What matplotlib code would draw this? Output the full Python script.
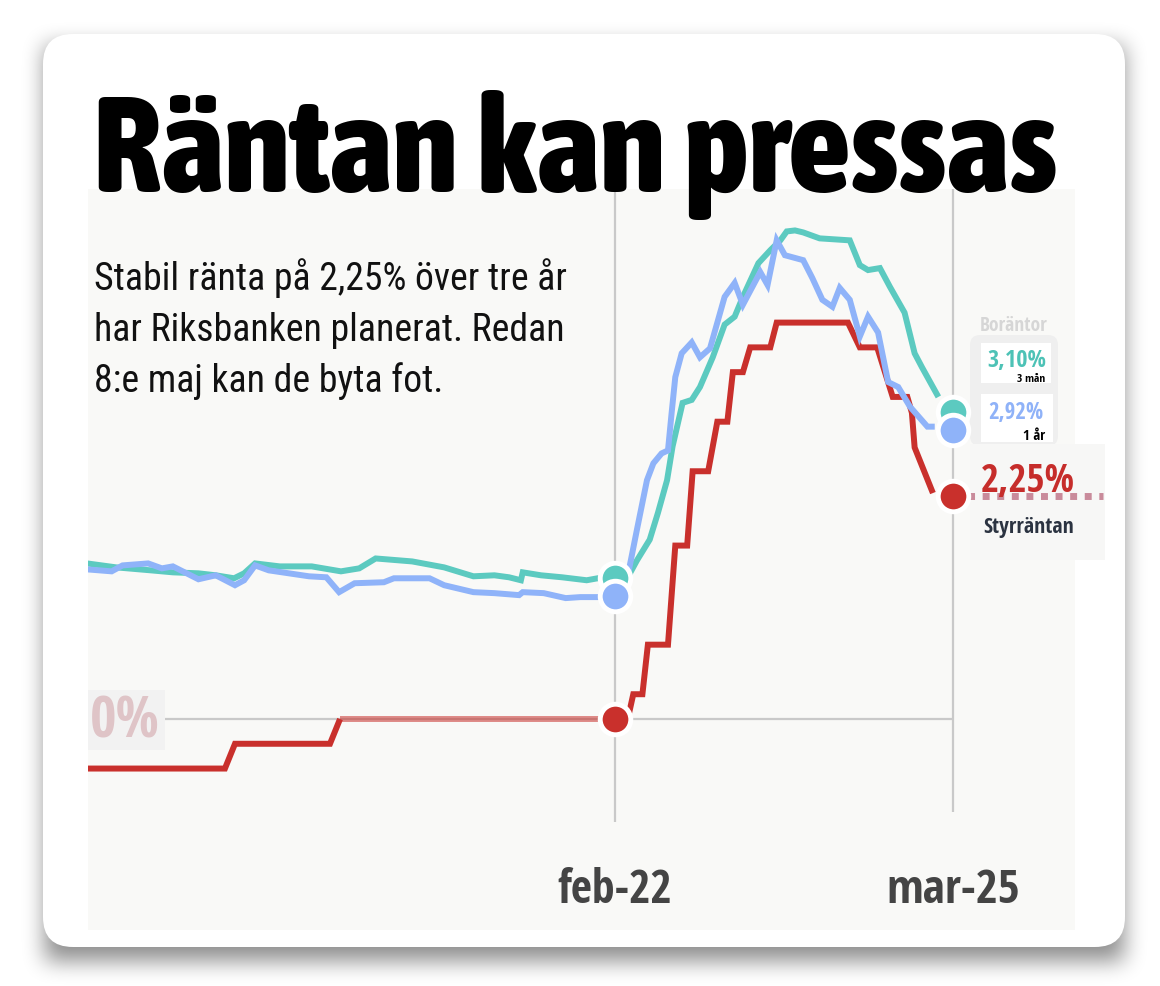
import numpy as np
import matplotlib
matplotlib.use("Agg")
import matplotlib.pyplot as plt
from matplotlib.patches import FancyBboxPatch, Rectangle
from matplotlib.transforms import IdentityTransform
from matplotlib import font_manager as fm

# ---------------- data (months relative to feb-22, percent) ----------------
tick_pos = [0, 37]
tick_labels = ["feb-22", "mar-25"]

t_3m = [-57.8, -54.6, -50.8, -48.4, -45.6, -43.7, -41.7, -40.6, -39.4, -36.7, -33.2,
        -30.0, -28.0, -26.2, -22.2, -18.7, -15.5, -13.2, -11.6, -10.3, -10.1, -8.1,
        -5.8, -3.1, -1.9, 0.0, 1.4, 2.4, 3.8, 4.7, 5.7, 6.3, 7.4, 8.4, 9.3, 10.7,
        12.0, 13.1, 14.0, 15.7, 17.0, 18.1, 18.8, 19.7, 20.6, 22.4, 25.7, 26.8,
        27.7, 29.0, 30.1, 31.7, 32.8, 33.6, 35.4, 37.0]
v_3m = [1.57, 1.53, 1.50, 1.48, 1.47, 1.45, 1.42, 1.47, 1.57, 1.54, 1.54,
        1.49, 1.52, 1.62, 1.59, 1.53, 1.44, 1.45, 1.43, 1.40, 1.48, 1.45,
        1.43, 1.40, 1.42, 1.42, 1.43, 1.60, 1.81, 2.08, 2.41, 2.75, 3.19, 3.22, 3.35, 3.65,
        3.98, 4.06, 4.26, 4.60, 4.73, 4.83, 4.92, 4.93, 4.91, 4.85, 4.83, 4.58,
        4.53, 4.55, 4.36, 4.10, 3.69, 3.55, 3.25, 3.10]

t_1y = [-57.8, -55.1, -53.9, -51.1, -49.6, -48.4, -45.6, -43.7, -41.6, -40.6, -39.4,
        -37.9, -33.5, -31.6, -30.2, -28.5, -25.3, -24.2, -20.3, -18.7, -15.5, -13.2,
        -10.5, -10.1, -7.8, -5.4, -3.8, -1.9, 0.0, 1.3, 2.4, 3.5, 4.2, 5.1, 5.8, 6.2,
        6.6, 7.3, 8.4, 9.3, 10.4, 12.0, 13.1, 14.0, 15.9, 16.7, 17.7, 18.6, 20.6,
        21.6, 22.7, 23.8, 24.6, 25.7, 26.8, 27.7, 28.8, 29.9, 31.0, 32.3, 34.2, 35.0, 37.0]
v_1y = [1.51, 1.49, 1.55, 1.57, 1.52, 1.54, 1.41, 1.45, 1.35, 1.40, 1.55,
        1.50, 1.44, 1.43, 1.28, 1.37, 1.38, 1.42, 1.42, 1.35, 1.28, 1.27,
        1.25, 1.28, 1.27, 1.22, 1.23, 1.23, 1.24, 1.40, 1.91, 2.41, 2.58, 2.68, 2.71, 3.09,
        3.45, 3.69, 3.80, 3.65, 3.74, 4.26, 4.40, 4.18, 4.51, 4.38, 4.83, 4.68, 4.63,
        4.45, 4.23, 4.16, 4.35, 4.23, 3.86, 4.06, 3.90, 3.40, 3.35, 3.15, 2.95, 2.95, 2.92]

t_policy = [-57.8, -42.7, -41.6, -31.2, -30.1, 0.0, 1.4, 2.0, 3.0, 3.6, 5.8, 6.6, 7.9, 8.5,
            10.2, 11.2, 12.3, 12.9, 14.0, 14.8, 17.0, 17.7, 25.5, 26.8, 28.7, 30.4,
            32.0, 32.5, 32.8, 34.8, 37.0]
v_policy = [-0.50, -0.50, -0.25, -0.25, 0.00, 0.00, 0.00, 0.25, 0.25, 0.75, 0.75, 1.75, 1.75, 2.50,
            2.50, 3.00, 3.00, 3.50, 3.50, 3.75, 3.75, 4.00, 4.00, 3.75, 3.75, 3.25,
            3.25, 3.09, 2.74, 2.28, 2.25]

title = "Räntan kan pressas"
subtitle = ["Stabil ränta på 2,25% över tre år",
            "har Riksbanken planerat. Redan",
            "8:e maj kan de byta fot."]
panel_title = "Boräntor"
label_3m, label_1y, label_policy = "3 mån", "1 år", "Styrräntan"
zero_label = "0%"

# ---------------- style ----------------
TEAL = "#5ccac0"
BLUE = "#8fb3f9"
RED = "#c9302c"
W, H = 1160, 986
DPI = 100

RANK = {"extra-condensed": 0, "condensed": 1, "ultra-condensed": 2, "semi-condensed": 3}
PREF = ["Noto Sans", "Open Sans", "Roboto", "Liberation Sans Narrow", "DejaVu Sans"]


def pick_font(target, min_w):
    cands = []
    for f in fm.fontManager.ttflist:
        if f.style != "normal":
            continue
        low = (f.fname + " " + f.name).lower()
        cond = ("condensed" in str(f.stretch)) or ("condensed" in low) or ("narrow" in low) \
            or ("cond" in f.fname.lower().split("/")[-1])
        if not cond or "mono" in low or "serif" in low and "sans" not in low:
            continue
        wt = f.weight if not isinstance(f.weight, str) else fm.weight_dict.get(f.weight, 400)
        wt = int(wt)
        if wt < min_w:
            continue
        fam_rank = next((i for i, p in enumerate(PREF) if f.name.startswith(p)), len(PREF))
        cands.append((abs(wt - target), RANK.get(str(f.stretch), 1), fam_rank, f.fname))
    if cands:
        cands.sort()
        return fm.FontProperties(fname=cands[0][3])
    return fm.FontProperties(family="DejaVu Sans", weight=target)


F_HEAVY = pick_font(800, 700)
F_BOLD = pick_font(700, 600)
F_REG = pick_font(400, 400)

fig = plt.figure(figsize=(W / DPI, H / DPI), dpi=DPI)
fig.patch.set_facecolor("white")

# shadow (blurred card mask)
yy, xx = np.mgrid[0:H, 0:W]
mask = ((xx >= 45) & (xx <= 1123) & (yy >= 46) & (yy <= 960)).astype(float)


def box_blur(a, r, axis):
    pad = [(r + 1, r) if i == axis else (0, 0) for i in range(2)]
    c = np.cumsum(np.pad(a, pad, mode="edge"), axis=axis)
    if axis == 0:
        return (c[2 * r + 1:, :] - c[:-2 * r - 1, :]) / (2 * r + 1)
    return (c[:, 2 * r + 1:] - c[:, :-2 * r - 1]) / (2 * r + 1)


for _ in range(3):
    mask = box_blur(mask, 10, 0)
    mask = box_blur(mask, 10, 1)
shadow = np.zeros((H, W, 4))
shadow[..., 3] = mask * 0.45
bg_ax = fig.add_axes([0, 0, 1, 1], zorder=-10)
bg_ax.imshow(shadow, extent=[0, W, H, 0], interpolation="bilinear")
bg_ax.set_xlim(0, W)
bg_ax.set_ylim(H, 0)
bg_ax.axis("off")

ID = IdentityTransform()


def px(x, y):
    return (x, H - y)


card = FancyBboxPatch(px(43, 947), 1082, 913, boxstyle="round,pad=0,rounding_size=30",
                      transform=ID, facecolor="white", edgecolor="none", zorder=-5)
fig.add_artist(card)

# ---------------- plot axes ----------------
x0p, x1p, y0p, y1p = 88, 1075, 189, 930
ax = fig.add_axes([x0p / W, (H - y1p) / H, (x1p - x0p) / W, (y1p - y0p) / H], zorder=1)
ax.set_facecolor("#f9f9f7")
ppm = (953 - 615) / 37.0
ppv = 99.1
ax.set_xlim((x0p - 615) / ppm, (x1p - 615) / ppm)
ax.set_ylim((719 - y1p) / ppv, (719 - y0p) / ppv)
for s in ax.spines.values():
    s.set_visible(False)
ax.set_xticks([])
ax.set_yticks([])

ax.vlines(tick_pos[0], (719 - 822) / ppv, ax.get_ylim()[1], color="#c9c9c9", lw=1.6, zorder=1)
ax.vlines(tick_pos[1], (719 - 812) / ppv, ax.get_ylim()[1], color="#c9c9c9", lw=1.6, zorder=1)
ax.hlines(0, ax.get_xlim()[0], tick_pos[1], color="#c9c9c9", lw=1.6, zorder=1)

texts_fit = []

# 0% label
ax.add_patch(Rectangle(px(87, 750), 78, 60, transform=ID,
                       facecolor="#f2f2f2", edgecolor="none", zorder=1.5))
t0 = ax.text(90, H - 738, zero_label, transform=ID, fontproperties=F_BOLD, fontsize=34,
             color="#dfc4c7", ha="left", va="baseline", zorder=1.6)
texts_fit.append((t0, 70))

t3 = np.array(t_3m); v3 = np.array(v_3m)
t1 = np.array(t_1y); v1 = np.array(v_1y)
tp = np.array(t_policy); vp = np.array(v_policy)

kw = dict(lw=4.3, solid_capstyle="butt", solid_joinstyle="miter")
ax.plot(t3[:-1], v3[:-1], color=TEAL, zorder=3, **kw)
ax.plot(t1[:-1], v1[:-1], color=BLUE, zorder=3.2, **kw)
zero_run = vp == 0
ax.plot(tp[:5], vp[:5], color=RED, zorder=3.1, **kw)
ax.plot(tp[zero_run], vp[zero_run], color=RED, alpha=0.55, zorder=3.1, **kw)
ax.plot(tp[6:-1], vp[6:-1], color=RED, zorder=3.1, **kw)

# right-hand panel (drawn inside the axes so lines and dots stay on top)
def rect(x, y_top, w, h, c, z, rounded=0):
    if rounded:
        p = FancyBboxPatch(px(x, y_top + h), w, h, boxstyle=f"round,pad=0,rounding_size={rounded}",
                           transform=ID, facecolor=c, edgecolor="none", zorder=z, clip_on=False)
    else:
        p = Rectangle(px(x, y_top + h), w, h, transform=ID, facecolor=c, edgecolor="none",
                      zorder=z, clip_on=False)
    ax.add_artist(p)

rect(970, 335, 88, 111, "#efefef", 1.2, rounded=10)
rect(981, 343, 70, 40, "white", 1.3)
rect(981, 394, 72, 48, "white", 1.3)
rect(970, 444, 135, 116, "#f7f7f6", 1.4)


def ptext(x, y, s, fp, size, color, ha, fitw=None):
    t = ax.text(x, H - y, s, transform=ID, fontproperties=fp, fontsize=size, color=color,
                ha=ha, va="baseline", zorder=6, clip_on=False)
    if fitw:
        texts_fit.append((t, fitw))
    return t


ptext(1014, 331, panel_title, F_BOLD, 14, "#d6d6d6", "center", 68)
ptext(1046, 367, f"{v3[-1]:.2f}%".replace(".", ","), F_BOLD, 17, "#4dc2b6", "right", 59)
ptext(1045, 382, label_3m, F_BOLD, 7.5, "black", "right", 28)
ptext(1044, 419, f"{v1[-1]:.2f}%".replace(".", ","), F_BOLD, 17, "#8fb2f8", "right", 55)
ptext(1045, 440, label_1y, F_BOLD, 8, "black", "right", 22)
ptext(981, 492, f"{vp[-1]:.2f}%".replace(".", ","), F_BOLD, 31, "#c62d2b", "left", 94)
ptext(983, 533, label_policy, F_BOLD, 17, "#2b3341", "left", 90)

# dotted line from the policy rate endpoint
ax.plot([tp[-1], (1103 - 615) / ppm], [vp[-1], vp[-1]], color="#c98b9b", lw=5,
        dashes=(1, 1.1), dash_capstyle="butt", clip_on=False, zorder=2.5)


def dot(t, v, c, z):
    ax.plot([t], [v], "o", ms=22, mfc=c, mec="white", mew=3.5, zorder=z, clip_on=False)


i0_3 = list(t3).index(0.0); i0_1 = list(t1).index(0.0); i0_p = list(tp).index(0.0)
dot(t3[i0_3], v3[i0_3], TEAL, 5)
dot(t1[i0_1], v1[i0_1], BLUE, 5.5)
dot(tp[i0_p], vp[i0_p], RED, 5.5)
dot(t3[-1], v3[-1], TEAL, 5)
dot(t1[-1], v1[-1], BLUE, 5.5)
dot(tp[-1], vp[-1], RED, 5.5)

# x labels
for p, lab, wpx in zip(tick_pos, tick_labels, [115, 134]):
    t = ax.text(p, (719 - 903) / ppv, lab, fontproperties=F_BOLD, fontsize=26, color="#444444",
                ha="center", va="baseline", zorder=4)
    texts_fit.append((t, wpx))

# ---------------- texts on the figure ----------------
tt = fig.text(93 / W, (H - 192) / H, title, fontproperties=F_HEAVY, fontsize=90,
              color="black", ha="left", va="baseline", zorder=10)
texts_fit.append((tt, 1057 - 93))
sub = []
for i, line in enumerate(subtitle):
    sub.append(fig.text(94 / W, (H - (290 + 51 * i)) / H, line, fontproperties=F_REG,
                        fontsize=26, color="#111111", ha="left", va="baseline", zorder=10))
texts_fit.append((sub[0], 565 - 94))

# fit widths to the reference
fig.canvas.draw()
r = fig.canvas.get_renderer()
for t, target in texts_fit:
    w = t.get_window_extent(r).width
    t.set_fontsize(t.get_fontsize() * target / w)
for s in sub[1:]:
    s.set_fontsize(sub[0].get_fontsize())

fig.savefig("out.png", dpi=DPI, facecolor="white")
